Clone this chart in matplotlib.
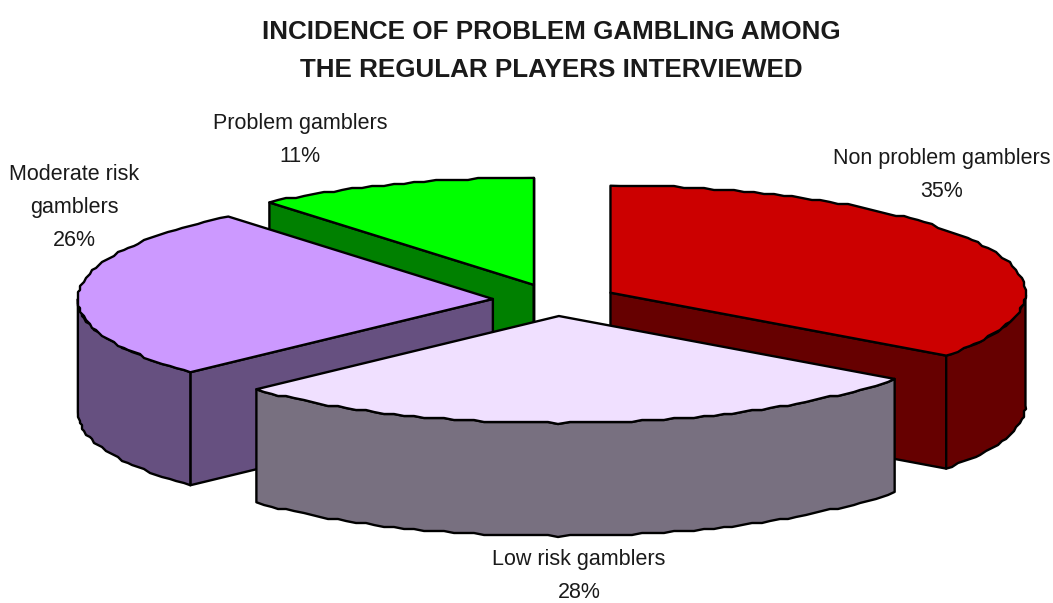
import numpy as np
import matplotlib
matplotlib.use("Agg")
import matplotlib.pyplot as plt
from matplotlib.patches import Polygon

plt.rcParams['font.family'] = ['Liberation Sans', 'DejaVu Sans']

title = "INCIDENCE OF PROBLEM GAMBLING AMONG\nTHE REGULAR PLAYERS INTERVIEWED"
categories = ["Non problem gamblers", "Low risk gamblers", "Moderate risk\ngamblers", "Problem gamblers"]
shares = [35, 28, 26, 11]
top_colors = ["#CC0000", "#F0E0FF", "#CC99FF", "#00FF00"]
side_colors = ["#660000", "#787080", "#665080", "#008000"]

# pie geometry, in pixels
cx, cy = 555, 300
rx, ry = 415, 107
depth = 113
explode = 0.15
snap = 2  # the outline of the rim is drawn coarse, on a small grid

fig = plt.figure(figsize=(10.53, 6.03), dpi=100)
ax = fig.add_axes([0, 0, 1, 1])
ax.set_xlim(0, 1053)
ax.set_ylim(603, 0)
ax.axis('off')


def rim(x0, y0, t0, t1):
    n = max(2, int((t1 - t0) * 0.7))
    t = np.radians(np.linspace(t0, t1, n))
    x = x0 + rx * np.sin(t)
    y = y0 - ry * np.cos(t)
    x[1:-1] = np.round(x[1:-1] / snap) * snap
    y[1:-1] = np.round(y[1:-1] / snap) * snap
    return np.column_stack([x, y])


def face(pts, color, z):
    ax.add_patch(Polygon(pts, closed=True, facecolor=color, edgecolor='black',
                         linewidth=1.7, joinstyle='round', zorder=z))


def draw_slice(start, share, top, side, z):
    end = start + share * 3.6
    mid = np.radians((start + end) / 2)
    x0 = cx + explode * rx * np.sin(mid)
    y0 = cy - explode * ry * np.cos(mid)
    down = np.array([0, depth])
    apex = np.array([x0, y0])

    # radial walls, only the ones turned towards the viewer
    for t, visible in ((start, np.sin(np.radians(start)) < 0), (end, np.sin(np.radians(end)) > 0)):
        if visible:
            p = rim(x0, y0, t, t + 1e-6)[0]
            face([apex, p, p + down, apex + down], side, z)

    # outer wall on the front half of the ellipse
    a, b = max(start, 90), min(end, 270)
    if a < b:
        arc = rim(x0, y0, a, b)
        face(np.vstack([arc, (arc + down)[::-1]]), side, z + 0.1)

    face(np.vstack([apex, rim(x0, y0, start, end)]), top, z + 0.2)


# back slices first so the front ones overlap them
starts = np.cumsum([0] + [s * 3.6 for s in shares[:-1]])
for z, i in enumerate([3, 2, 0, 1]):
    draw_slice(starts[i], shares[i], top_colors[i], side_colors[i], z + 2)

ax.text(551, 51, title, ha='center', va='center', fontsize=18.7, fontweight='bold',
        color='#1a1a1a', linespacing=1.75)

label_pos = [(942, 175), (579, 576), (74, 207), (300, 140)]
for name, share, (x, y) in zip(categories, shares, label_pos):
    ax.text(x, y, f"{name}\n{share}%", ha='center', va='center', fontsize=15.5,
            color='#1a1a1a', linespacing=1.75)

fig.savefig("out.png", dpi=100)
